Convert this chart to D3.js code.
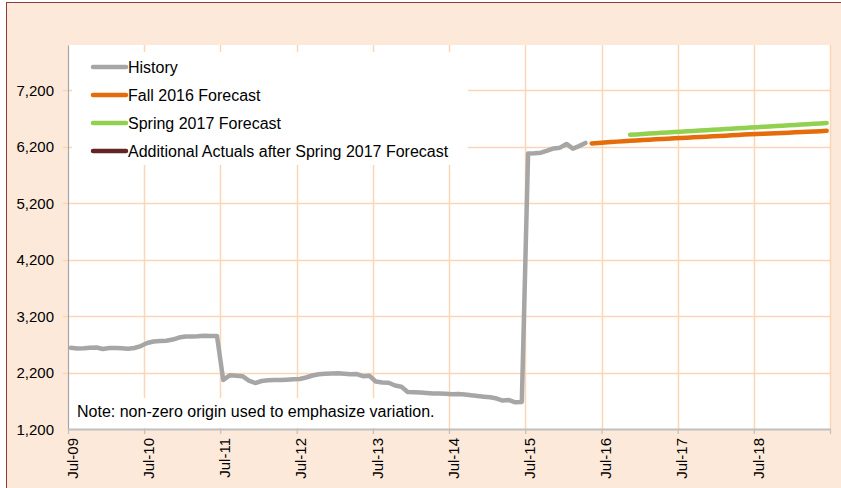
<!DOCTYPE html>
<html>
<head>
<meta charset="utf-8">
<script src="https://cdn.jsdelivr.net/npm/d3@7"></script>
<style>
  body { margin: 0; background: #fff; }
  text { font-family: "Liberation Sans", Arial, sans-serif; fill: #000; }
</style>
</head>
<body>
<div id="chart"></div>
<script>
// monthly series, first value = Jul-09
var historyStart = [2009, 6];
var historyVals = [2639, 2625, 2628, 2637, 2643, 2616, 2634, 2634, 2628, 2621, 2634, 2669,
  2722, 2749, 2758, 2763, 2784, 2819, 2837, 2837, 2841, 2850, 2846, 2846,
  2067, 2150, 2143, 2135, 2058, 2014, 2050, 2062, 2067, 2067, 2073, 2081,
  2085, 2112, 2147, 2170, 2177, 2182, 2186, 2177, 2168, 2173, 2135, 2142,
  2041, 2023, 2018, 1970, 1949, 1855, 1851, 1846, 1837, 1828, 1828, 1823,
  1816, 1819, 1811, 1796, 1784, 1773, 1763, 1740, 1704, 1713, 1673, 1678,
  6080, 6085, 6094, 6129, 6168, 6182, 6248, 6165, 6209, 6266];

// Fall 2016 forecast, first value = May-16
var fallStart = [2016, 4];
var fallVals = [6257, 6265, 6273, 6281, 6289, 6296, 6303, 6310, 6317, 6323, 6329, 6335,
  6341, 6347, 6353, 6359, 6365, 6371, 6377, 6383, 6389, 6395, 6401, 6407,
  6413, 6418, 6423, 6428, 6433, 6438, 6443, 6448, 6453, 6458, 6463, 6468, 6474, 6480];

// Spring 2017 forecast, first value = Nov-16
var springStart = [2016, 10];
var springVals = [6410, 6417, 6424, 6431, 6438, 6444, 6451, 6458, 6464, 6471, 6478, 6484,
  6491, 6498, 6504, 6511, 6518, 6524, 6531, 6538, 6544, 6551, 6558, 6564,
  6571, 6578, 6584, 6591, 6598, 6605, 6612, 6620];

var yTicks = [1200, 2200, 3200, 4200, 5200, 6200, 7200];
var xTickYears = [2009, 2010, 2011, 2012, 2013, 2014, 2015, 2016, 2017, 2018, 2019];
var legendNames = ["History", "Fall 2016 Forecast", "Spring 2017 Forecast", "Additional Actuals after Spring 2017 Forecast"];
var legendColors = ["#A6A6A6", "#E46C0A", "#92D050", "#632523"];
var note = "Note: non-zero origin used to emphasize variation.";

var W = 841, H = 488;
var plot = {left: 68, right: 830, top: 45, bottom: 429};

var svg = d3.select("#chart").append("svg")
    .attr("width", W)
    .attr("height", H);

// outer chart area
svg.append("rect")
    .attr("x", 6.5).attr("y", 2.5)
    .attr("width", W + 20).attr("height", H + 20)
    .attr("fill", "#FDE9D9")
    .attr("stroke", "#8E3B3B")
    .attr("stroke-width", 1);

// plot area
svg.append("rect")
    .attr("x", plot.left).attr("y", plot.top)
    .attr("width", plot.right - plot.left).attr("height", plot.bottom - plot.top)
    .attr("fill", "#fff");

var x = d3.scaleTime()
    .domain([new Date(2009, 6, 1), new Date(2019, 6, 1)])
    .range([plot.left, plot.right]);

var y = d3.scaleLinear()
    .domain([1200, 8000])
    .range([plot.bottom, plot.top]);

function toSeries(start, vals) {
    return vals.map(function(v, i) {
        return {date: new Date(start[0], start[1] + i, 15), value: v};
    });
}

// gridlines
svg.append("g")
    .selectAll("line")
    .data(yTicks.slice(1))
    .enter().append("line")
    .attr("x1", plot.left - 5).attr("x2", plot.right)
    .attr("y1", function(d) { return Math.round(y(d)) + 0.5; })
    .attr("y2", function(d) { return Math.round(y(d)) + 0.5; })
    .attr("stroke", "#FBD5B5")
    .attr("stroke-width", 1.5);

svg.append("g")
    .selectAll("line")
    .data(xTickYears.slice(1))
    .enter().append("line")
    .attr("x1", function(d) { return Math.round(x(new Date(d, 6, 1))) + 0.5; })
    .attr("x2", function(d) { return Math.round(x(new Date(d, 6, 1))) + 0.5; })
    .attr("y1", plot.top).attr("y2", plot.bottom)
    .attr("stroke", "#FBD5B5")
    .attr("stroke-width", 1.5);

// legend box (covers the grid)
svg.append("rect")
    .attr("x", 72).attr("y", 52)
    .attr("width", 396).attr("height", 113)
    .attr("fill", "#fff");

// note box
svg.append("rect")
    .attr("x", 70).attr("y", 398)
    .attr("width", 372).attr("height", 30)
    .attr("fill", "#fff");

svg.append("text")
    .attr("x", 77).attr("y", 417)
    .style("font-size", "16px")
    .text(note);

// axes
var yAxis = svg.append("g")
    .attr("transform", "translate(" + plot.left + ",0)")
    .call(d3.axisLeft(y).tickValues(yTicks).tickFormat(d3.format(",")).tickSize(0).tickPadding(14));
yAxis.select(".domain").attr("stroke", "#A6A6A6").attr("stroke-width", 1.2);
yAxis.selectAll("text").style("font-size", "15px").attr("dy", "0.34em");

var xAxis = svg.append("g")
    .attr("transform", "translate(0," + plot.bottom + ")")
    .call(d3.axisBottom(x)
        .tickValues(xTickYears.map(function(d) { return new Date(d, 6, 1); }))
        .tickFormat(function(d) { return d.getFullYear() < 2019 ? d3.timeFormat("%b-%y")(d) : ""; })
        .tickSize(5).tickSizeOuter(0));
xAxis.select(".domain").attr("stroke", "#BFBFBF").attr("stroke-width", 2);
xAxis.selectAll(".tick line").attr("stroke", "#BFBFBF").attr("stroke-width", 1.2);
xAxis.selectAll("text")
    .style("font-size", "15px")
    .attr("text-anchor", "end")
    .attr("transform", "rotate(-90)")
    .attr("x", -9)
    .attr("y", 0)
    .attr("dy", "0.62em");

// lines
var line = d3.line()
    .x(function(d) { return x(d.date); })
    .y(function(d) { return y(d.value); });

var series = [
    {data: toSeries(historyStart, historyVals), color: legendColors[0]},
    {data: toSeries(springStart, springVals), color: legendColors[2]},
    {data: toSeries(fallStart, fallVals), color: legendColors[1]}
];

svg.append("g")
    .selectAll("path")
    .data(series)
    .enter().append("path")
    .attr("d", function(d) { return line(d.data); })
    .attr("fill", "none")
    .attr("stroke", function(d) { return d.color; })
    .attr("stroke-width", 4.5)
    .attr("stroke-linejoin", "round")
    .attr("stroke-linecap", "round");

// legend
var lg = svg.append("g")
    .selectAll("g")
    .data(legendNames)
    .enter().append("g")
    .attr("transform", function(d, i) { return "translate(93," + (67 + i * 28) + ")"; });

lg.append("line")
    .attr("x1", 0).attr("x2", 33)
    .attr("stroke", function(d, i) { return legendColors[i]; })
    .attr("stroke-width", 4.5)
    .attr("stroke-linecap", "round");

lg.append("text")
    .attr("x", 35)
    .attr("dy", "0.36em")
    .style("font-size", "16px")
    .text(function(d) { return d; });
</script>
</body>
</html>
